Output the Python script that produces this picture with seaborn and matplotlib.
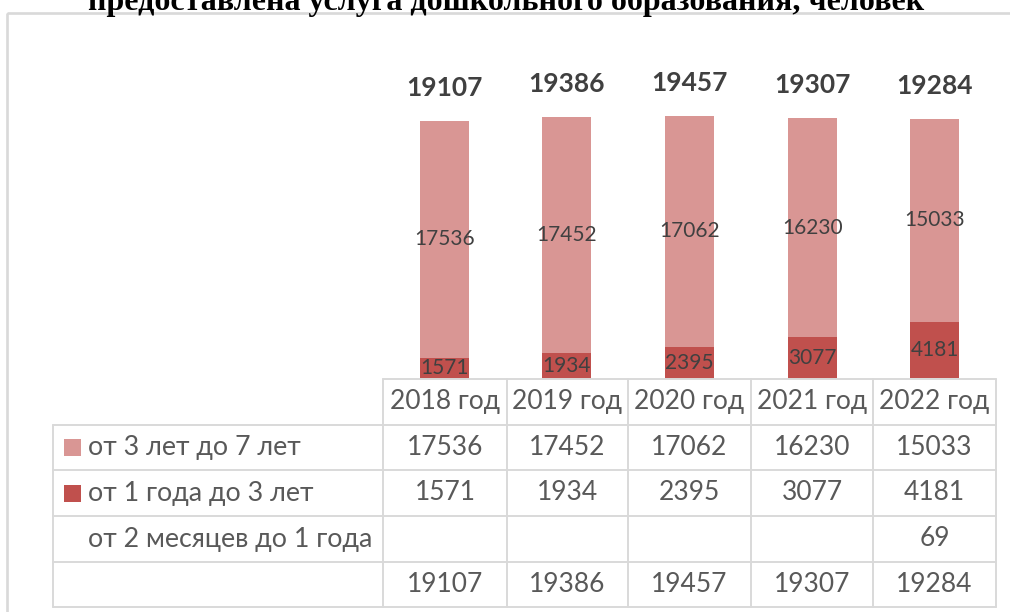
import numpy as np
import pandas as pd
import matplotlib.pyplot as plt
import seaborn as sns

# data
years = ['2018 год', '2019 год', '2020 год', '2021 год', '2022 год']
age_3_7 = [17536, 17452, 17062, 16230, 15033]
age_1_3 = [1571, 1934, 2395, 3077, 4181]
age_2m_1 = [None, None, None, None, 69]
totals = [19107, 19386, 19457, 19307, 19284]

series_names = ['от 3 лет до 7 лет', 'от 1 года до 3 лет', 'от 2 месяцев до 1 года']

light = '#D99694'
dark = '#C0504D'
grid_col = '#D9D9D9'
txt_col = '#595959'

sns.set_style("white")
plt.rcParams['font.family'] = ['Lato', 'DejaVu Sans']

W, H = 1010, 612
fig = plt.figure(figsize=(W / 100, H / 100), dpi=100)

# table geometry in pixels
col_edges = [383, 507, 628, 751, 873, 996]
row_edges = [379, 425, 470, 516, 562, 607]
label_left = 53

# bar chart axes, aligned with the table columns
ax = fig.add_axes([col_edges[0] / W, (H - row_edges[0]) / H,
                   (col_edges[-1] - col_edges[0]) / W, (row_edges[0] - 82) / H])

infant = np.array([v if v is not None else 0 for v in age_2m_1])
young = np.array(age_1_3)
old = np.array(age_3_7)

sns.barplot(x=years, y=young, bottom=infant, color=dark, width=0.4,
            saturation=1, linewidth=0, ax=ax)
sns.barplot(x=years, y=old, bottom=infant + young, color=light, width=0.4,
            saturation=1, linewidth=0, ax=ax)
ax.set_xlim(-0.5, 4.5)
ax.set_ylim(0, 22000)
ax.axis('off')

for i in range(len(years)):
    ax.text(i, infant[i] + young[i] / 2, str(young[i]), ha='center', va='center',
            fontsize=15, color='#404040')
    ax.text(i, infant[i] + young[i] + old[i] / 2, str(old[i]), ha='center', va='center',
            fontsize=15, color='#404040')
    ax.annotate(str(totals[i]), (i, totals[i]), xytext=(0, 18), textcoords='offset points',
                ha='center', va='baseline', fontsize=19, fontweight='bold', color='#404040')

# overlay in pixel coordinates for frame and data table
ov = fig.add_axes([0, 0, 1, 1])
ov.set_xlim(0, W)
ov.set_ylim(H, 0)
ov.axis('off')
ov.patch.set_alpha(0)

# outer chart frame: only its left and top edges fall inside the picture
ov.add_patch(plt.Rectangle((7, 13), 1200, 800, fill=False, edgecolor=grid_col,
                           lw=1.9, clip_on=False))

# table grid
ov.plot([col_edges[0], col_edges[-1]], [row_edges[0]] * 2, color=grid_col, lw=1.4)
for y in row_edges[1:]:
    ov.plot([label_left, col_edges[-1]], [y, y], color=grid_col, lw=1.4)
for x in col_edges:
    ov.plot([x, x], [row_edges[0], row_edges[-1]], color=grid_col, lw=1.4)
ov.plot([label_left, label_left], [row_edges[1], row_edges[-1]], color=grid_col, lw=1.4)

centers = [(a + b) / 2 for a, b in zip(col_edges[:-1], col_edges[1:])]
rows_mid = [(a + b) / 2 for a, b in zip(row_edges[:-1], row_edges[1:])]

for cx, yr in zip(centers, years):
    ov.text(cx, rows_mid[0], yr, ha='center', va='center', fontsize=19, color=txt_col)

table_rows = [age_3_7, age_1_3, age_2m_1, totals]
for r, vals in enumerate(table_rows):
    for cx, v in zip(centers, vals):
        if v is not None:
            ov.text(cx, rows_mid[r + 1], str(v), ha='center', va='center',
                    fontsize=19, color=txt_col)

key_colors = [light, dark, None]
for r, (name, kc) in enumerate(zip(series_names, key_colors)):
    ym = rows_mid[r + 1]
    if kc is not None:
        ov.add_patch(plt.Rectangle((64, ym - 8.5), 17, 17, color=kc, lw=0))
    ov.text(88, ym, name, ha='left', va='center', fontsize=19.3, color=txt_col)

# title, cut off at the top like in the source
fig.text(506, H - 10, 'предоставлена услуга дошкольного образования, человек',
         transform=None, ha='center', va='baseline', fontsize=23,
         fontweight='bold', family='Liberation Serif', color='black')

fig.savefig('out.png', dpi=100)
